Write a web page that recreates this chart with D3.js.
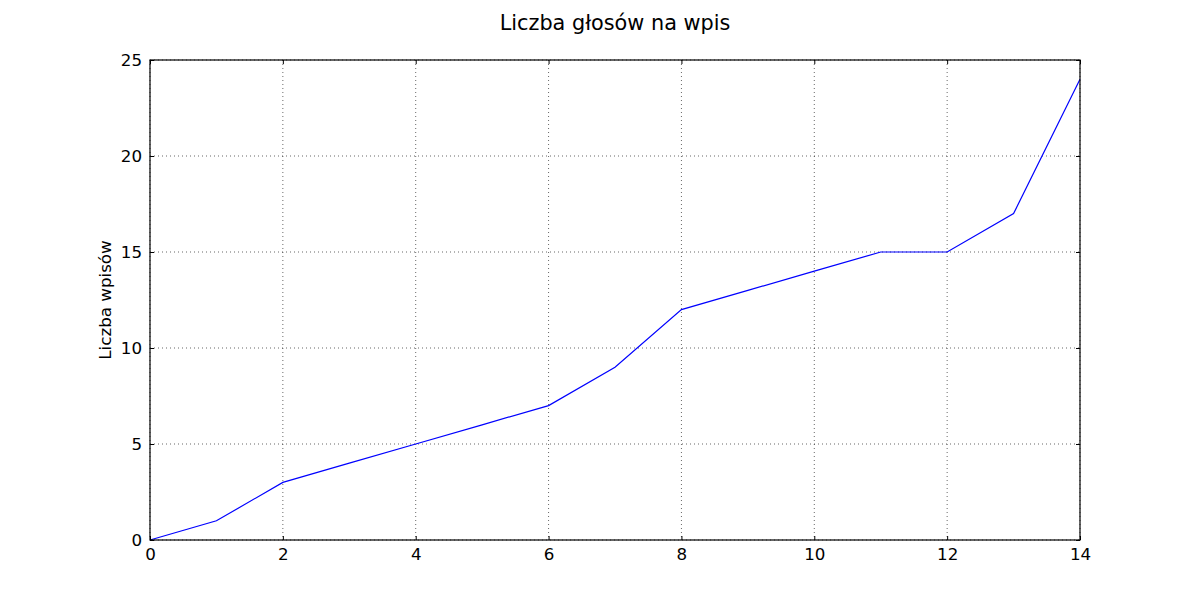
<!DOCTYPE html>
<html><head><meta charset="utf-8">
<script src="https://cdn.jsdelivr.net/npm/d3@7"></script>
<style>body{margin:0;background:#fff}svg{display:block}text{font-family:"DejaVu Sans",sans-serif;fill:#000}</style>
</head><body>
<script>
const xValues = [0,1,2,3,4,5,6,7,8,9,10,11,12,13,14];
const yValues = [0,1,3,4,5,6,7,9,12,13,14,15,15,17,24];
const xTicks = [0,2,4,6,8,10,12,14];
const yTicks = [0,5,10,15,20,25];
const title = "Liczba głosów na wpis";
const yLabel = "Liczba wpisów";

const W=1200,H=600, L=150,R=1080,T=60,B=540;
const svg=d3.select("body").append("svg").attr("width",W).attr("height",H);
const x=d3.scaleLinear().domain([0,14]).range([L,R]);
const y=d3.scaleLinear().domain([0,25]).range([B,T]);

// grid
svg.append("g").selectAll("line").data(xTicks).join("line")
 .attr("x1",d=>x(d)).attr("x2",d=>x(d)).attr("y1",T).attr("y2",B)
 .attr("stroke","#000").attr("stroke-width",0.6).attr("stroke-dasharray","1,3");
svg.append("g").selectAll("line").data(yTicks).join("line")
 .attr("y1",d=>y(d)).attr("y2",d=>y(d)).attr("x1",L).attr("x2",R)
 .attr("stroke","#000").attr("stroke-width",0.6).attr("stroke-dasharray","1,3");

// line
svg.append("path").datum(xValues.map((v,i)=>[v,yValues[i]]))
 .attr("fill","none").attr("stroke","#0000ff").attr("stroke-width",1.2)
 .attr("d",d3.line().x(d=>x(d[0])).y(d=>y(d[1])));

// axes (ticks inside)
const fmt=d3.format("d");
function styleAxis(g){g.select(".domain").remove();g.selectAll("line").attr("stroke","#000");g.selectAll("text").style("font-size","16.7px").style("font-family","DejaVu Sans");}
svg.append("g").attr("transform",`translate(0,${B})`).call(d3.axisBottom(x).tickValues(xTicks).tickFormat(fmt).tickSizeInner(-4).tickSizeOuter(0).tickPadding(8)).call(styleAxis);
svg.append("g").attr("transform",`translate(0,${T})`).call(d3.axisTop(x).tickValues(xTicks).tickFormat("").tickSizeInner(-4).tickSizeOuter(0)).call(styleAxis);
svg.append("g").attr("transform",`translate(${L},0)`).call(d3.axisLeft(y).tickValues(yTicks).tickFormat(fmt).tickSizeInner(-4).tickSizeOuter(0).tickPadding(8)).call(styleAxis);
svg.append("g").attr("transform",`translate(${R},0)`).call(d3.axisRight(y).tickValues(yTicks).tickFormat("").tickSizeInner(-4).tickSizeOuter(0)).call(styleAxis);

svg.append("rect").attr("x",L).attr("y",T).attr("width",R-L).attr("height",B-T)
 .attr("fill","none").attr("stroke","#000").attr("stroke-width",1.2);

svg.append("text").attr("x",(L+R)/2).attr("y",29.5).attr("text-anchor","middle").style("font-size","20.8px").text(title);
svg.append("text").attr("transform",`translate(111,${(T+B)/2}) rotate(-90)`).attr("text-anchor","middle").style("font-size","16.7px").text(yLabel);
</script>
</body></html>
